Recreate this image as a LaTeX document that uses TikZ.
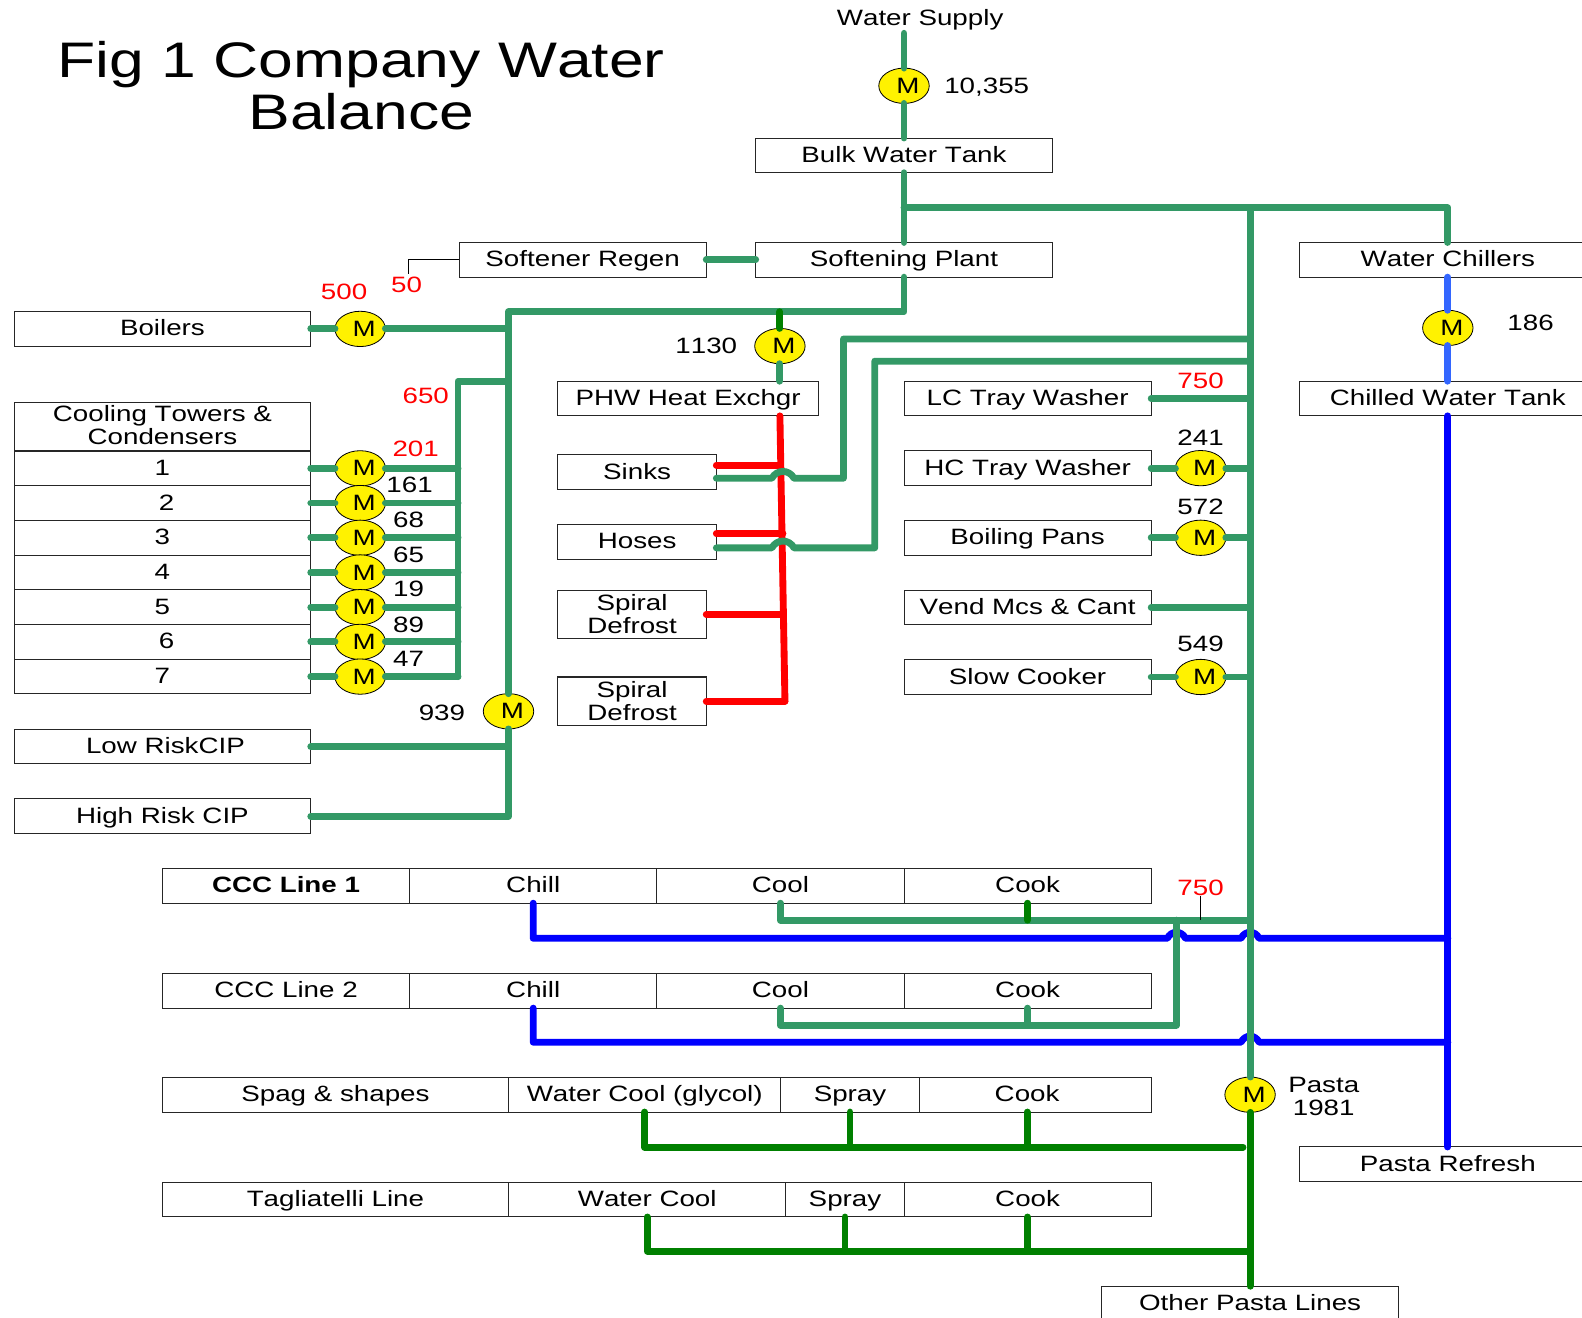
\documentclass[tikz,border=0pt]{standalone}
\usepackage{fontspec}
\setmainfont{Liberation Sans}[FakeStretch=1.25,Kerning=Off]
\usepackage{xcolor}
\usepackage{tikz}
\usetikzlibrary{positioning,shapes.geometric}
\definecolor{mains}{HTML}{339966}
\definecolor{process}{HTML}{008000}
\definecolor{hotwater}{HTML}{FF0000}
\definecolor{chilled}{HTML}{0000FF}
\definecolor{chillfeed}{HTML}{3366FF}

\begin{document}
\begin{tikzpicture}[
  x=1pt, y=-1pt,
  unit/.style={draw=black!85, line width=1pt, inner sep=0pt, outer sep=0pt,
    minimum height=34.4pt, align=center, text height=16pt, text depth=2pt,
    font=\fontsize{22}{23}\selectfont},
  wide/.style={unit, minimum width=294pt},
  mid/.style={unit, minimum width=245pt},
  tall/.style={unit, text height=, text depth=, minimum height=48pt},
  meter/.style={ellipse, draw=black, line width=0.8pt, fill=yellow, inner sep=0pt,
    outer sep=0pt, minimum width=50pt, minimum height=35pt,
    execute at begin node=\hspace*{8pt}, font=\fontsize{22}{23}\selectfont},
  reading/.style={inner sep=0pt, align=center, yshift=-1pt, font=\fontsize{22}{23}\selectfont},
  flow/.style={reading, text=hotwater},
  pipe/.style={draw=mains, line width=6.8pt, line cap=round, line join=round},
  feed/.style={pipe, draw=process},
  hot/.style={pipe, draw=hotwater},
  cold/.style={pipe, draw=chilled},
  coldfeed/.style={pipe, draw=chillfeed},
  leader/.style={draw=black, line width=0.8pt}
]
\useasboundingbox (0,0) rectangle (1568,1306);
\node[inner sep=0pt, align=center, font=\fontsize{49.5}{52}\selectfont] (title) at (358,85) {Fig 1 Company Water\\Balance};

\node[reading] (supply) at (912,18.5) {Water Supply};
\coordinate (supply-end) at (896,33);
\node[meter] (supply-meter) at (896,85) {M};
\node[reading] (supply-value) at (978,85) {10,355};
\node[wide] (bulk) at (896,154) {Bulk Water Tank};
\node[wide] (softening) at (896,257.5) {Softening Plant};
\node[unit, minimum width=245pt] (regen) at (577.5,257.5) {Softener Regen};
\node[flow] (regen-value) at (403,281) {50};
\node[wide] (chillers) at (1435,257.5) {Water Chillers};
\node[meter] (chillers-meter) at (1435,325) {M};
\node[reading] (chillers-value) at (1517,319) {186};
\node[wide] (chilled-tank) at (1435,395) {Chilled Water Tank};

\node[wide] (boilers) at (161,326) {Boilers};
\node[meter, right=24pt of boilers] (boilers-meter) {M};
\node[flow] (boilers-value) at (341,288) {500};

\node[tall, minimum width=294pt] (towers) at (161,423) {Cooling Towers \&\\Condensers\rule[-4pt]{0pt}{1pt}};
\node[wide, below=0pt of towers] (tower-1) {1};
\node[wide, below=0pt of tower-1] (tower-2) {\hspace*{8pt}2};
\node[wide, below=0pt of tower-2] (tower-3) {3};
\node[wide, below=0pt of tower-3] (tower-4) {4};
\node[wide, below=0pt of tower-4] (tower-5) {5};
\node[wide, below=0pt of tower-5] (tower-6) {\hspace*{8pt}6};
\node[wide, below=0pt of tower-6] (tower-7) {7};
\node[meter, right=24pt of tower-1] (tower-meter-1) {M};
\node[meter, right=24pt of tower-2] (tower-meter-2) {M};
\node[meter, right=24pt of tower-3] (tower-meter-3) {M};
\node[meter, right=24pt of tower-4] (tower-meter-4) {M};
\node[meter, right=24pt of tower-5] (tower-meter-5) {M};
\node[meter, right=24pt of tower-6] (tower-meter-6) {M};
\node[meter, right=24pt of tower-7] (tower-meter-7) {M};
\node[flow] (towers-value) at (422,391) {650};
\node[flow] (tower-value-1) at (412,444) {201};
\node[reading] (tower-value-2) at (406,480) {161};
\node[reading] (tower-value-3) at (405,514) {68};
\node[reading] (tower-value-4) at (405,549) {65};
\node[reading] (tower-value-5) at (405,583) {19};
\node[reading] (tower-value-6) at (405,618) {89};
\node[reading] (tower-value-7) at (405,652) {47};

\node[meter] (cip-meter) at (504,705) {M};
\node[reading] (cip-value) at (438,706) {939};
\node[wide] (low-cip) at (161,740) {\hspace*{6pt}Low RiskCIP};
\node[wide] (high-cip) at (161,809) {High Risk CIP};

\node[meter] (phw-meter) at (773,343) {M};
\node[reading] (phw-value) at (700,342) {1130};
\node[unit, minimum width=258pt] (phw) at (682,395) {PHW Heat Exchgr};
\node[unit, minimum width=157pt] (sinks) at (631.5,468) {Sinks};
\node[unit, minimum width=157pt] (hoses) at (631.5,537) {Hoses};
\node[tall, minimum width=147pt] (defrost-1) at (626.5,609) {Spiral\\Defrost};
\node[tall, minimum width=147pt] (defrost-2) at (626.5,695) {Spiral\\Defrost};
\coordinate (hot-tap) at (776,609);
\coordinate (hot-end) at (778,695);

\node[mid] (lc-washer) at (1018.5,395) {LC Tray Washer};
\node[mid] (hc-washer) at (1018.5,464) {HC Tray Washer};
\node[mid] (pans) at (1018.5,533) {Boiling Pans};
\node[mid] (vend) at (1018.5,602) {Vend Mcs \& Cant};
\node[mid] (cooker) at (1018.5,671) {Slow Cooker};
\node[meter, right=24pt of hc-washer] (hc-meter) {M};
\node[meter, right=24pt of pans] (pans-meter) {M};
\node[meter, right=24pt of cooker] (cooker-meter) {M};
\node[flow] (lc-value) at (1190,376) {750};
\node[reading] (hc-value) at (1190,433) {241};
\node[reading] (pans-value) at (1190,501) {572};
\node[reading] (cooker-value) at (1190,637) {549};

\node[mid] (ccc1) at (283.5,878) {\textbf{CCC Line 1}};
\node[mid, right=0pt of ccc1] (ccc1-chill) {Chill};
\node[mid, right=0pt of ccc1-chill] (ccc1-cool) {Cool};
\node[mid, right=0pt of ccc1-cool] (ccc1-cook) {Cook};
\node[flow] (ccc-value) at (1190,879) {750};

\node[mid] (ccc2) at (283.5,982) {CCC Line 2};
\node[mid, right=0pt of ccc2] (ccc2-chill) {Chill};
\node[mid, right=0pt of ccc2-chill] (ccc2-cool) {Cool};
\node[mid, right=0pt of ccc2-cool] (ccc2-cook) {Cook};

\node[unit, minimum width=343pt] (spag) at (332.5,1085) {Spag \& shapes};
\node[unit, minimum width=270pt, right=0pt of spag] (spag-water) {Water Cool (glycol)};
\node[unit, minimum width=137pt, right=0pt of spag-water] (spag-spray) {Spray};
\node[unit, minimum width=230pt, right=0pt of spag-spray] (spag-cook) {\hspace*{-16pt}Cook};

\node[unit, minimum width=343pt] (tag) at (332.5,1189) {Tagliatelli Line};
\node[unit, minimum width=275pt, right=0pt of tag] (tag-water) {Water Cool};
\node[unit, minimum width=117pt, right=0pt of tag-water] (tag-spray) {Spray};
\node[mid, right=0pt of tag-spray] (tag-cook) {Cook};

\node[meter] (pasta-meter) at (1239,1085) {M};
\node[reading] (pasta-value) at (1312,1086) {Pasta\\1981};
\node[wide] (refresh) at (1435,1154) {Pasta Refresh};
\node[wide] (other) at (1239,1292) {Other Pasta Lines};

\coordinate (trunk-top) at (1239,206);
\coordinate (main-corner) at (504,309);
\coordinate (tower-top) at (454,378);
\coordinate (sink-return) at (836,336);
\coordinate (hose-return) at (867,358);
\coordinate (line1-tee) at (1239,912);
\coordinate (line2-tee) at (1166,912);
\coordinate (line2-corner) at (1166,1016);
\coordinate (hop-1) at (1166,930);
\coordinate (hop-2) at (1239,930);
\coordinate (hop-3) at (1239,1033);
\coordinate (return-1) at (1435,930);
\coordinate (return-2) at (1435,1033);
\coordinate (spag-return) at (1232,1137);
\coordinate (tag-return) at (1239,1240);

\draw[coldfeed] (chillers.south) -- (chillers-meter.north);
\draw[coldfeed] (chillers-meter.south) -- (chilled-tank.north);
\draw[cold] (chilled-tank.south) -- (refresh.north);
\draw[cold] (ccc1-chill.south) |- ([xshift=-9pt]hop-1) .. controls +(4,-8) and +(-4,-8) .. ([xshift=9pt]hop-1) -- ([xshift=-9pt]hop-2) .. controls +(4,-8) and +(-4,-8) .. ([xshift=9pt]hop-2) -- (return-1);
\draw[cold] (ccc2-chill.south) |- ([xshift=-9pt]hop-3) .. controls +(4,-8) and +(-4,-8) .. ([xshift=9pt]hop-3) -- (return-2);

\draw[hot] (phw-meter.south |- phw.south) -- (hot-end);
\draw[hot] ([yshift=7pt]sinks.east) -- ([yshift=7pt]sinks.east -| phw-meter);
\draw[hot] ([yshift=8pt]hoses.east) -- ([yshift=8pt]hoses.east -| hot-tap);
\draw[hot] (defrost-1.east) -- (hot-tap);
\draw[hot] (defrost-2.east) -- (hot-end);

\draw[pipe] (supply-end) -- (supply-meter.north);
\draw[pipe] (supply-meter.south) -- (bulk.north);
\draw[pipe] (bulk.south) -- (softening.north);
\draw[pipe] (softening.north |- trunk-top) -| (chillers.north);
\draw[pipe] (trunk-top) -- (pasta-meter.north);
\draw[pipe] (regen.east) -- (softening.west);
\draw[pipe] (softening.south) |- (main-corner) -- (cip-meter.north);
\draw[pipe] (boilers.east) -- (boilers-meter.west);
\draw[pipe] (boilers-meter.east) -- (boilers-meter.east -| main-corner);
\draw[pipe] (tower-top -| main-corner) -- (tower-top) -- (tower-top |- tower-meter-7);
\draw[pipe] (tower-1.east) -- (tower-meter-1.west);
\draw[pipe] (tower-meter-1.east) -- (tower-meter-1.east -| tower-top);
\draw[pipe] (tower-2.east) -- (tower-meter-2.west);
\draw[pipe] (tower-meter-2.east) -- (tower-meter-2.east -| tower-top);
\draw[pipe] (tower-3.east) -- (tower-meter-3.west);
\draw[pipe] (tower-meter-3.east) -- (tower-meter-3.east -| tower-top);
\draw[pipe] (tower-4.east) -- (tower-meter-4.west);
\draw[pipe] (tower-meter-4.east) -- (tower-meter-4.east -| tower-top);
\draw[pipe] (tower-5.east) -- (tower-meter-5.west);
\draw[pipe] (tower-meter-5.east) -- (tower-meter-5.east -| tower-top);
\draw[pipe] (tower-6.east) -- (tower-meter-6.west);
\draw[pipe] (tower-meter-6.east) -- (tower-meter-6.east -| tower-top);
\draw[pipe] (tower-7.east) -- (tower-meter-7.west);
\draw[pipe] (tower-meter-7.east) -- (tower-meter-7.east -| tower-top);
\draw[pipe] (cip-meter.south) |- (high-cip.east);
\draw[pipe] (low-cip.east) -- (low-cip.east -| cip-meter);
\draw[feed] (phw-meter.north |- main-corner) -- (phw-meter.north);
\draw[pipe] (phw-meter.south) -- (phw-meter.south |- phw.north);
\draw[pipe] ([yshift=-6pt]sinks.east) -- ++(55,0) .. controls +(5,-9) and +(-5,-9) .. ++(22,0) -| (sink-return) -- (sink-return -| trunk-top);
\draw[pipe] ([yshift=-6pt]hoses.east) -- ++(55,0) .. controls +(5,-9) and +(-5,-9) .. ++(22,0) -| (hose-return) -- (hose-return -| trunk-top);
\draw[pipe] (lc-washer.east) -- (lc-washer.east -| trunk-top);
\draw[pipe] (hc-washer.east) -- (hc-meter.west);
\draw[pipe] (hc-meter.east) -- (hc-meter.east -| trunk-top);
\draw[pipe] (pans.east) -- (pans-meter.west);
\draw[pipe] (pans-meter.east) -- (pans-meter.east -| trunk-top);
\draw[pipe] (vend.east) -- (vend.east -| trunk-top);
\draw[pipe] (cooker.east) -- (cooker-meter.west);
\draw[pipe] (cooker-meter.east) -- (cooker-meter.east -| trunk-top);

\draw[pipe] (ccc1-cool.south) |- (line1-tee);
\draw[feed] (ccc1-cook.south) -- (ccc1-cook.south |- line1-tee);
\draw[pipe] (ccc2-cool.south) |- (line2-corner) -- (line2-tee);
\draw[pipe] (ccc2-cook.south) -- (ccc2-cook.south |- line2-corner);

\draw[feed] (pasta-meter.south) -- (other.north);
\draw[feed] (spag-water.south) |- (spag-return);
\draw[feed] (spag-spray.south) -- (spag-spray.south |- spag-return);
\draw[feed] ([xshift=-8pt]spag-cook.south) -- ([xshift=-8pt]spag-cook.south |- spag-return);
\draw[feed] (tag-water.south) |- (tag-return);
\draw[feed] (tag-spray.south) -- (tag-spray.south |- tag-return);
\draw[feed] (tag-cook.south) -- (tag-cook.south |- tag-return);

\draw[leader] (regen.west) -| ([xshift=2pt,yshift=2pt]regen-value.north);
\draw[leader] (ccc-value.south) -- (ccc-value.south |- line1-tee);
\end{tikzpicture}
\end{document}
